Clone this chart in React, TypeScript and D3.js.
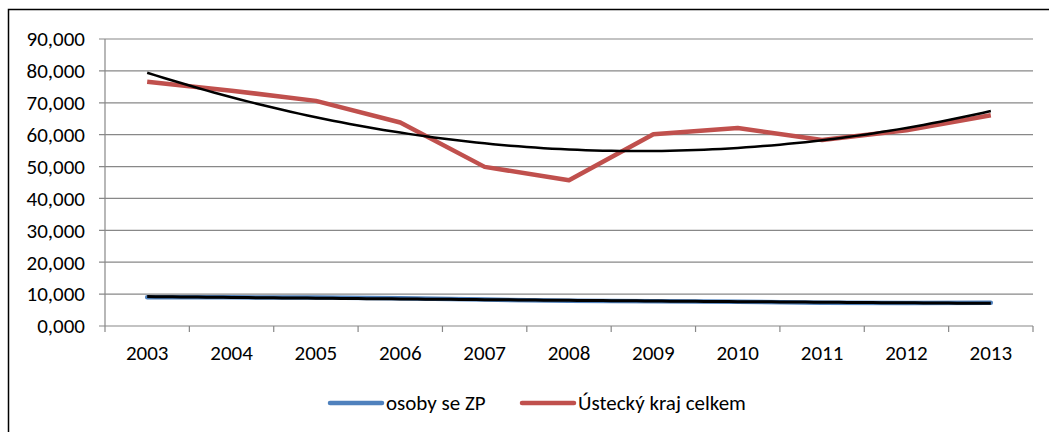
import React from "react";
import * as d3 from "d3";

const years = ["2003","2004","2005","2006","2007","2008","2009","2010","2011","2012","2013"];
const ustecky = [76.6, 73.8, 70.6, 63.8, 49.9, 45.7, 60.1, 62.1, 58.3, 61.4, 66.1];
const osobyZP = [9.0, 9.0, 8.9, 8.7, 8.3, 7.9, 7.8, 7.6, 7.3, 7.2, 7.3];
const yTicks = [0, 10, 20, 30, 40, 50, 60, 70, 80, 90];
const legendLabels = ["osoby se ZP", "Ústecký kraj celkem"];

// Excel-style 2nd order polynomial trendline (least squares)
function polyFit2(ys: number[]) {
  const n = ys.length;
  let s0 = n, s1 = 0, s2 = 0, s3 = 0, s4 = 0, t0 = 0, t1 = 0, t2 = 0;
  ys.forEach((y, i) => {
    const x = i + 1;
    s1 += x; s2 += x * x; s3 += x ** 3; s4 += x ** 4;
    t0 += y; t1 += x * y; t2 += x * x * y;
  });
  const M = [[s0, s1, s2, t0], [s1, s2, s3, t1], [s2, s3, s4, t2]];
  for (let c = 0; c < 3; c++) {
    for (let r = c + 1; r < 3; r++) {
      const f = M[r][c] / M[c][c];
      for (let k = c; k < 4; k++) M[r][k] -= f * M[c][k];
    }
  }
  const coef = [0, 0, 0];
  for (let r = 2; r >= 0; r--) {
    let s = M[r][3];
    for (let k = r + 1; k < 3; k++) s -= M[r][k] * coef[k];
    coef[r] = s / M[r][r];
  }
  return (x: number) => coef[0] + coef[1] * x + coef[2] * x * x;
}

export default function App() {
  const W = 1049, H = 432;
  const left = 105, right = 1033, top = 39, bottom = 326;
  const x = d3.scaleBand<string>().domain(years).range([left, right]);
  const y = d3.scaleLinear().domain([0, 90]).range([bottom, top]);
  const cx = (i: number) => (x(years[i]) as number) + x.bandwidth() / 2;
  const line = d3.line<number>().x((_, i) => cx(i)).y((d) => y(d));
  const font = "Carlito, Calibri, Lato, 'Open Sans', sans-serif";
  const fs = 21;

  const trendPath = (data: number[]) => {
    const f = polyFit2(data);
    const pts = d3.range(0, 10.001, 0.1).map((t) => [left + x.bandwidth() / 2 + t * x.step(), y(f(t + 1))] as [number, number]);
    return d3.line()(pts) as string;
  };

  const fmt = (v: number) => (v === 0 ? "0,000" : d3.format(",")(v) + ",000");

  return (
    <svg width={W} height={H} style={{ position: "absolute", left: 0, top: 0, background: "#fff" }} fontFamily={font}>
      <rect x={8.5} y={9.5} width={1100} height={500} fill="#fff" stroke="#000" strokeWidth={1.5} />
      {yTicks.map((t) => (
        <g key={t}>
          <line x1={left - 6} x2={right} y1={y(t)} y2={y(t)} stroke="#888" strokeWidth={1.2} />
          <text x={85} y={y(t)} dy="0.35em" textAnchor="end" fontSize={fs} fill="#000">{fmt(t)}</text>
        </g>
      ))}
      <line x1={left} x2={left} y1={top} y2={bottom} stroke="#888" strokeWidth={1.2} />
      {years.map((yr) => (
        <line key={"t" + yr} x1={x(yr) as number} x2={x(yr) as number} y1={bottom} y2={bottom + 6} stroke="#888" strokeWidth={1.2} />
      ))}
      <line x1={right} x2={right} y1={bottom} y2={bottom + 6} stroke="#888" strokeWidth={1.2} />
      {years.map((yr, i) => (
        <text key={yr} x={cx(i)} y={353} dy="0.35em" textAnchor="middle" fontSize={fs} fill="#000">{yr}</text>
      ))}
      <path d={line(osobyZP) as string} fill="none" stroke="#4F81BD" strokeWidth={4.5} strokeLinejoin="round" strokeLinecap="round" />
      <path d={line(ustecky) as string} fill="none" stroke="#C0504D" strokeWidth={4.5} strokeLinejoin="round" />
      <path d={trendPath(osobyZP)} fill="none" stroke="#000" strokeWidth={3} />
      <path d={trendPath(ustecky)} fill="none" stroke="#000" strokeWidth={2.5} />
      <g>
        <line x1={330} x2={382} y1={403} y2={403} stroke="#4F81BD" strokeWidth={4.5} strokeLinecap="round" />
        <text x={386} y={403} dy="0.35em" fontSize={fs} fill="#000">{legendLabels[0]}</text>
        <line x1={522} x2={574} y1={403} y2={403} stroke="#C0504D" strokeWidth={4.5} strokeLinecap="round" />
        <text x={578} y={403} dy="0.35em" fontSize={fs} fill="#000">{legendLabels[1]}</text>
      </g>
    </svg>
  );
}
